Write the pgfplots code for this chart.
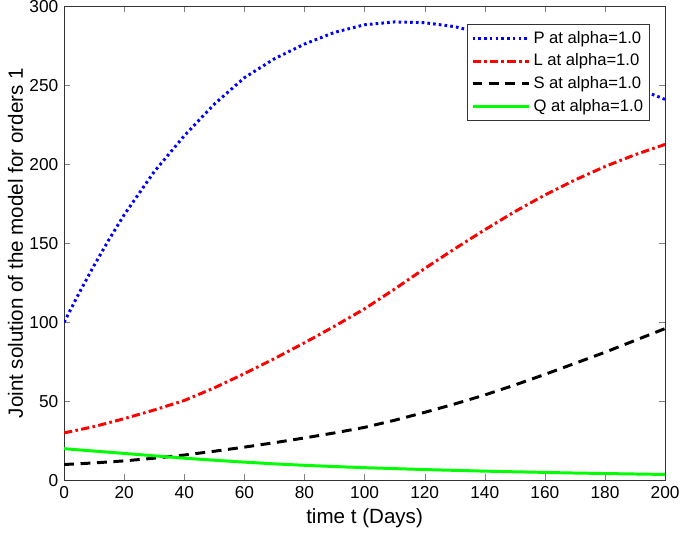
\documentclass[border={1.5pt 3pt 0pt 0pt}]{standalone}
\usepackage{fontspec}
\setmainfont{Liberation Sans}
\usepackage{pgfplots}
\pgfplotsset{compat=1.18}

\begin{document}
\begin{tikzpicture}
\begin{axis}[
  scale only axis, width=365pt, height=288pt,
  xmin=0, xmax=200, ymin=0, ymax=300,
  xtick={0,20,...,200}, ytick={0,50,...,300},
  tick align=inside, major tick length=3.6pt,
  /pgf/number format/assume math mode=true,
  ticklabel style={font=\fontsize{10.5}{12}\selectfont},
  yticklabel style={inner ysep=0pt},
  label style={font=\fontsize{12.5}{14}\selectfont},
  xlabel={time t (Days)}, ylabel={Joint solution of the model for orders 1},
  xlabel style={yshift=0.5pt}, ylabel style={yshift=-3pt},
  axis line style={black!80, line width=0.5pt},
  legend style={at={(0.975,0.962)}, anchor=north east, font=\fontsize{10.1}{12}\selectfont,
    draw=black!80, line width=0.5pt, inner xsep=2pt, inner ysep=2pt, row sep=1pt,
    cells={anchor=west}},
  legend image code/.code={\draw[#1] (0cm,0cm) -- (1.2cm,0cm);},
]
\addplot[blue, line width=1.8pt, dash pattern=on 1.6pt off 1.9pt] coordinates {
(0,100) (5,118.5) (10,136) (15,152.5) (20,168) (30,195.3) (40,218) (50,238) (60,254.7)
(70,266.7) (80,276) (90,283.4) (100,288.2) (110,290) (120,289.5) (130,287) (140,282.5)
(150,277) (160,270.5) (170,263.5) (180,256) (190,248.5) (200,241)};
\addlegendentry{P at alpha=1.0}
\addplot[red, line width=1.8pt, dash pattern=on 5pt off 2pt on 1.6pt off 2pt] coordinates {
(0,30) (10,34) (20,39) (30,44.5) (40,50.5) (50,58.5) (60,67.5) (70,77) (80,87) (90,97.5)
(100,108.5) (110,121) (120,134) (130,146.5) (140,158.5) (150,170) (160,180.5) (170,190)
(180,198.5) (190,206) (200,212.5)};
\addlegendentry{L at alpha=1.0}
\addplot[black, line width=1.8pt, dash pattern=on 6pt off 4pt] coordinates {
(0,10) (10,11) (20,12.3) (30,14) (40,16) (50,18.4) (60,21) (70,23.8) (80,26.8) (90,30)
(100,33.5) (110,38) (120,43) (130,48.3) (140,54) (150,60.3) (160,67) (170,74) (180,81)
(190,88.5) (200,96)};
\addlegendentry{S at alpha=1.0}
\addplot[green, line width=1.8pt] coordinates {
(0,20) (10,18.5) (20,17) (30,15.5) (40,14) (50,12.7) (60,11.5) (70,10.4) (80,9.5) (90,8.7)
(100,8) (110,7.4) (120,6.8) (130,6.3) (140,5.8) (150,5.4) (160,5) (170,4.6) (180,4.3)
(190,4) (200,3.7)};
\addlegendentry{Q at alpha=1.0}
\end{axis}
\end{tikzpicture}
\end{document}
